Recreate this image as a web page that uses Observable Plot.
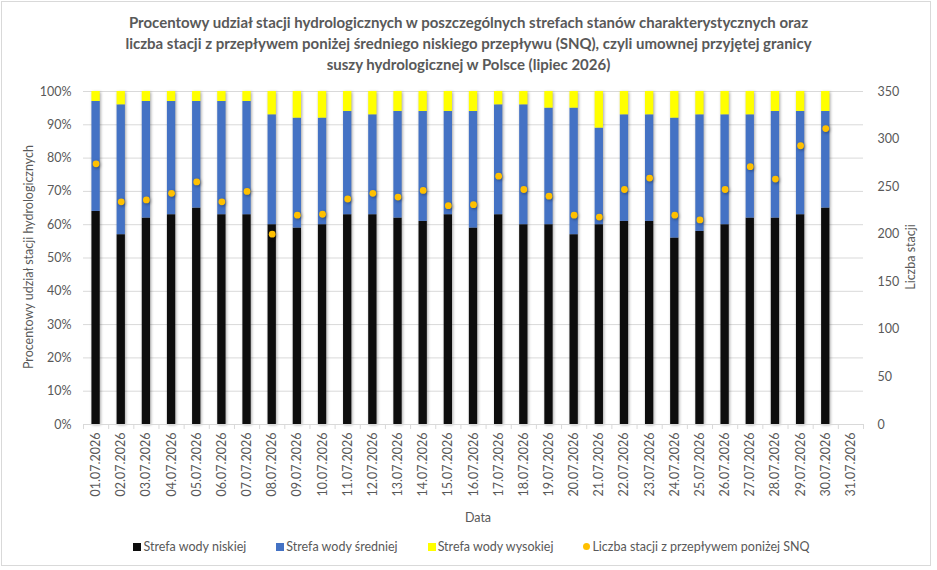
<!DOCTYPE html>
<html><head><meta charset="utf-8">
<script src="https://cdn.jsdelivr.net/npm/d3@7"></script>
<script src="https://cdn.jsdelivr.net/npm/@observablehq/plot@0.6"></script>
<style>
body{margin:0;background:#fff;font-family:Lato,"Open Sans",sans-serif;color:#595959}
#frame{position:absolute;left:1px;top:1px;width:930px;height:565px;border:1px solid #d9d9d9;box-sizing:border-box}
#title{position:absolute;left:0;width:937px;top:12px;text-align:center;font-weight:bold;font-size:15px;line-height:21px;color:#595959}
#chart{position:absolute;left:0;top:80px}
.lab{position:absolute;font-size:12.5px;color:#595959;white-space:nowrap}
#legend{position:absolute;top:539px;left:3px;width:937px;display:flex;justify-content:center;gap:30px;font-size:12.5px;color:#595959}
#legend span.it{display:flex;align-items:center;gap:2px}
#legend i{display:inline-block;width:8px;height:8px}
</style></head>
<body>
<div id="frame"></div>
<div id="title">Procentowy udział stacji hydrologicznych w poszczególnych strefach stanów charakterystycznych oraz<br>liczba stacji z przepływem poniżej średniego niskiego przepływu (SNQ), czyli umownej przyjętej granicy<br>suszy hydrologicznej w Polsce (lipiec 2026)</div>
<div id="chart"></div>
<div class="lab" style="left:28px;top:257px;transform:translate(-50%,-50%) rotate(-90deg)">Procentowy udział stacji hydrologicznych</div>
<div class="lab" style="left:910px;top:257px;transform:translate(-50%,-50%) rotate(-90deg)">Liczba stacji</div>
<div class="lab" style="left:478px;top:517px;transform:translate(-50%,-50%)">Data</div>
<div id="legend"></div>
<script>
const days = d3.range(1, 32).map(d => String(d).padStart(2, "0") + ".07.2026");
const lowZone  = [64,57,62,63,65,63,63,60,59,60,63,63,62,61,63,59,63,60,60,57,60,61,61,56,58,60,62,62,63,65,null];
const midZone  = [33,39,35,34,32,34,34,33,33,32,31,30,32,33,31,35,33,36,35,38,29,32,32,36,35,33,31,32,31,29,null];
const highZone = [3,4,3,3,3,3,3,7,8,8,6,7,6,6,6,6,4,4,5,5,11,7,7,8,7,7,7,6,6,6,null];
const belowSNQ = [274,234,236,243,255,234,245,200,220,221,237,243,239,246,230,231,261,247,240,220,218,247,259,220,215,247,271,258,293,311,null];
const seriesNames = ["Strefa wody niskiej", "Strefa wody średniej", "Strefa wody wysokiej"];
const seriesColors = ["#0d0d0d", "#4472c4", "#ffff00"];
const dotName = "Liczba stacji z przepływem poniżej SNQ";
const dotColor = "#ffc000";
const pctTicks = d3.range(0, 101, 10);
const countTicks = d3.range(0, 351, 50);
const countMax = 350;

const rows = [];
days.forEach((d, i) => {
  [lowZone, midZone, highZone].forEach((arr, k) => {
    if (arr[i] != null) rows.push({day: d, zone: seriesNames[k], value: arr[i]});
  });
});
const dots = days.map((d, i) => ({day: d, count: belowSNQ[i]})).filter(d => d.count != null);

const W = 937, ML = 83, MR = 74;
const step = (W - ML - MR) / days.length;

const plot = Plot.plot({
  width: W, height: 430,
  marginLeft: ML, marginRight: MR, marginTop: 11, marginBottom: 86,
  style: {fontFamily: "Lato, 'Open Sans', sans-serif", fontSize: "12.5px", color: "#595959", background: "transparent"},
  x: {type: "band", domain: days, paddingInner: 0.67, paddingOuter: 0.335, round: false},
  y: {domain: [0, 100]},
  color: {domain: seriesNames, range: seriesColors},
  marks: [
    Plot.ruleY(pctTicks, {stroke: "#d9d9d9", strokeWidth: 1}),
    Plot.ruleX(days, {x: d => d, y1: 0, y2: 0, insetBottom: -5, dx: -step / 2, stroke: "#d9d9d9"}),
    Plot.ruleX([days[days.length - 1]], {x: d => d, y1: 0, y2: 0, insetBottom: -5, dx: step / 2, stroke: "#d9d9d9"}),
    Plot.barY(rows, {x: "day", y: "value", fill: "zone", order: seriesNames}),
    Plot.dot(dots, {x: "day", y: d => d.count / countMax * 100, r: 3.4, fill: dotColor}),
    Plot.axisY(pctTicks, {anchor: "left", tickSize: 0, tickPadding: 12, tickFormat: d => d + "%", label: null}),
    Plot.axisY(countTicks.map(v => v / countMax * 100), {anchor: "right", tickSize: 0, tickPadding: 14, tickFormat: v => Math.round(v * countMax / 100), label: null}),
    Plot.axisX({tickRotate: -90, tickSize: 0, tickPadding: 8, label: null}),
    Plot.ruleY([0], {stroke: "#d9d9d9"})
  ]
});
d3.select(plot).selectAll('g[aria-label="bar"], g[aria-label="dot"]').style("filter", "drop-shadow(1px 1px 1.5px rgba(0,0,0,0.35))");
document.getElementById("chart").appendChild(plot);

const leg = d3.select("#legend");
seriesNames.forEach((n, k) => {
  const it = leg.append("span").attr("class", "it");
  it.append("i").style("background", seriesColors[k]);
  it.append("span").text(n);
});
const it = leg.append("span").attr("class", "it");
it.append("i").style("background", dotColor).style("border-radius", "50%").style("width", "7px").style("height", "7px");
it.append("span").text(dotName);
</script>
</body></html>
